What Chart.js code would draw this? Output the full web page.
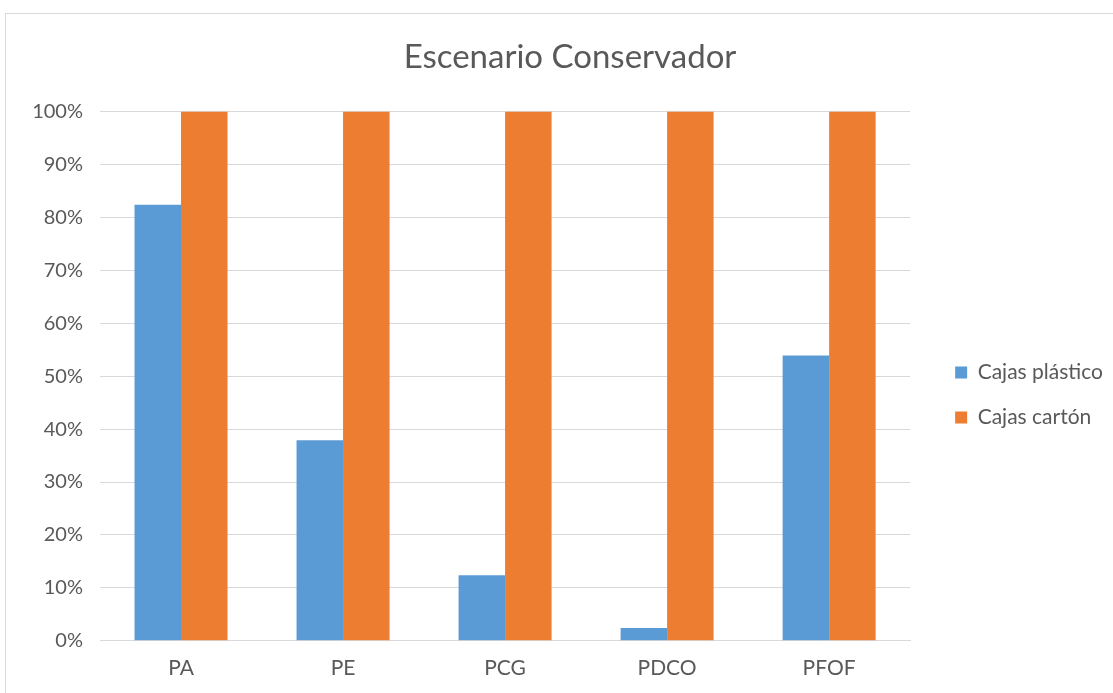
<!DOCTYPE html>
<html>
<head>
<meta charset="utf-8">
<script src="https://cdn.jsdelivr.net/npm/chart.js@4.4.1/dist/chart.umd.min.js"></script>
<style>
  body { margin: 0; background: #fff; }
  #frame { position: absolute; left: 5px; top: 13px; width: 1200px; height: 800px; border: 1px solid #d9d9d9; }
  #wrap { position: absolute; left: 0; top: 0; width: 1113px; height: 693px; }
</style>
</head>
<body>
<div id="frame"></div>
<div id="wrap"><canvas id="chart"></canvas></div>
<script>
const categories = ["PA", "PE", "PCG", "PDCO", "PFOF"];
const cajasPlastico = [82.4, 37.9, 12.4, 2.4, 53.9];
const cajasCarton = [100, 100, 100, 100, 100];
const seriesNames = ["Cajas plástico", "Cajas cartón"];
const titleText = "Escenario Conservador";

const gray = "#595959";
const font = "Lato, 'Open Sans', sans-serif";

// nudge legend and title a little, like the original
const nudge = {
  id: "nudge",
  afterLayout(chart) {
    chart.legend.left += 21;
    chart.legend.right += 21;
    chart.legend.top += 28;
    chart.legend.bottom += 28;
    chart.titleBlock.left += 11;
    chart.titleBlock.right += 11;
  },
};

new Chart(document.getElementById("chart"), {
  type: "bar",
  data: {
    labels: categories,
    datasets: [
      { label: seriesNames[0], data: cajasPlastico, backgroundColor: "#5b9bd5" },
      { label: seriesNames[1], data: cajasCarton, backgroundColor: "#ed7d31" },
    ],
  },
  plugins: [nudge],
  options: {
    responsive: true,
    maintainAspectRatio: false,
    animation: false,
    datasets: { bar: { barPercentage: 1, categoryPercentage: 0.574 } },
    layout: { padding: { left: 26, right: 21, top: 38, bottom: -3 } },
    plugins: {
      title: {
        display: true,
        text: titleText,
        color: gray,
        font: { family: font, size: 33, weight: "normal" },
        padding: { top: 0, bottom: 34 },
      },
      legend: {
        position: "right",
        labels: {
          color: gray,
          font: { family: font, size: 21 },
          boxWidth: 12,
          boxHeight: 12,
          padding: 24,
        },
      },
      tooltip: { enabled: false },
    },
    scales: {
      x: {
        grid: { display: false, drawTicks: false },
        border: { color: "#d9d9d9" },
        ticks: { color: gray, font: { family: font, size: 21 }, padding: 15 },
      },
      y: {
        min: 0,
        max: 100,
        afterFit: (s) => { s.width = 74; },
        border: { display: false },
        grid: { color: "#d9d9d9", drawTicks: false },
        ticks: {
          stepSize: 10,
          color: gray,
          padding: 17,
          font: { family: font, size: 20 },
          callback: (v) => v + "%",
        },
      },
    },
  },
});
</script>
</body>
</html>
